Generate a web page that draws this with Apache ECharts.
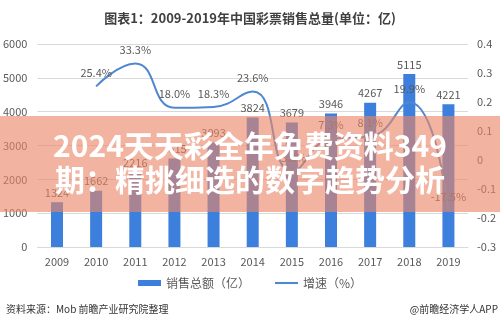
<!DOCTYPE html>
<html><head><meta charset="utf-8">
<script src="https://cdn.jsdelivr.net/npm/echarts@6/dist/echarts.min.js"></script>
<style>html,body{margin:0;padding:0;background:#fff}#c{width:500px;height:328px}</style>
</head><body><div id="c"></div>
<script>
const years = ['2009','2010','2011','2012','2013','2014','2015','2016','2017','2018','2019'];
const sales = [1324, 1662, 2216, 2615, 3093, 3824, 3679, 3946, 4267, 5115, 4221];
const growth = [null, 0.254, 0.333, 0.180, 0.183, 0.236, -0.038, 0.073, 0.081, 0.199, -0.175];
const leftTicks = [0, 6000, 1000];
const rightTicks = [-0.3, 0.4, 0.1];
const titleText = '图表1：2009-2019年中国彩票销售总量(单位：亿)';
const overlayLines = ['2024天天彩全年免费资料349', '期：精挑细选的数字趋势分析'];
const sourceText = '资料来源：Mob 前瞻产业研究院整理';
const creditText = '@前瞻经济学人APP';
const seriesNames = ['销售总额（亿）', '增速（%）'];

const FONT = '"Noto Sans CJK SC", "Microsoft YaHei", sans-serif';
const chart = echarts.init(document.getElementById('c'), null, {renderer: 'canvas'});
chart.setOption({
  animation: false,
  textStyle: {fontFamily: FONT},
  title: {
    text: titleText, left: 'center', top: 7,
    textStyle: {fontSize: 13, fontWeight: 'bold', color: '#404040', fontFamily: FONT}
  },
  grid: {left: 37, right: 32, top: 44, bottom: 81, containLabel: false},
  legend: {
    bottom: 34, left: 'center', itemGap: 25, itemWidth: 23, itemHeight: 6,
    textStyle: {fontSize: 12, color: '#595959', fontFamily: FONT},
    data: [
      {name: seriesNames[0], icon: 'rect'},
      {name: seriesNames[1], icon: 'path://M0,0H22V2H0Z'}
    ]
  },
  xAxis: {
    type: 'category', data: years,
    axisLine: {lineStyle: {color: '#d9d9d9'}},
    axisTick: {show: false},
    axisLabel: {color: '#595959', fontSize: 11, margin: 9}
  },
  yAxis: [
    {type: 'value', min: leftTicks[0], max: leftTicks[1], interval: leftTicks[2],
     axisLine: {show: false}, axisTick: {show: false},
     axisLabel: {color: '#595959', fontSize: 11, margin: 10, formatter: v => String(v)},
     splitLine: {lineStyle: {color: '#d9d9d9'}}},
    {type: 'value', min: rightTicks[0], max: rightTicks[1], interval: rightTicks[2],
     axisLine: {show: false}, axisTick: {show: false},
     axisLabel: {color: '#595959', fontSize: 11, margin: 9,
       formatter: v => String(Math.round(v * 10) / 10)},
     splitLine: {show: false}}
  ],
  series: [
    {name: seriesNames[0], type: 'bar', data: sales, barWidth: 12,
     itemStyle: {color: '#3d7fdc'},
     label: {show: true, position: 'top', color: '#595959', fontSize: 11, distance: 4}},
    {name: seriesNames[1], type: 'line', yAxisIndex: 1, data: growth, smooth: 0.5,
     showSymbol: true, symbol: 'circle', symbolSize: 0.1, connectNulls: false,
     lineStyle: {color: '#4f88d0', width: 2}, itemStyle: {color: '#4f88d0'},
     labelLayout: {hideOverlap: false},
     label: {show: true, position: 'top', color: '#595959', fontSize: 11, distance: 8,
       formatter: p => (p.value * 100).toFixed(1) + '%'}}
  ],
  graphic: [
    {type: 'rect', left: 0, top: 116, z: 100, shape: {width: 500, height: 96},
     style: {fill: 'rgba(234,134,102,0.62)'}},
    {type: 'text', x: 250, y: 146, z: 101,
     style: {text: overlayLines[0], fill: '#fff', font: 'bold 30px ' + FONT,
       textAlign: 'center', textVerticalAlign: 'middle',
       shadowBlur: 3, shadowColor: 'rgba(0,0,0,0.35)'}},
    {type: 'text', x: 250, y: 180, z: 101,
     style: {text: overlayLines[1], fill: '#fff', font: 'bold 30px ' + FONT,
       textAlign: 'center', textVerticalAlign: 'middle',
       shadowBlur: 3, shadowColor: 'rgba(0,0,0,0.35)'}},
    {type: 'text', left: 6, top: 304, z: 50,
     style: {text: sourceText, fill: '#333', font: '10px ' + FONT}},
    {type: 'text', right: 2, top: 304, z: 50,
     style: {text: creditText, fill: '#333', font: '10px ' + FONT}}
  ]
});
</script></body></html>
